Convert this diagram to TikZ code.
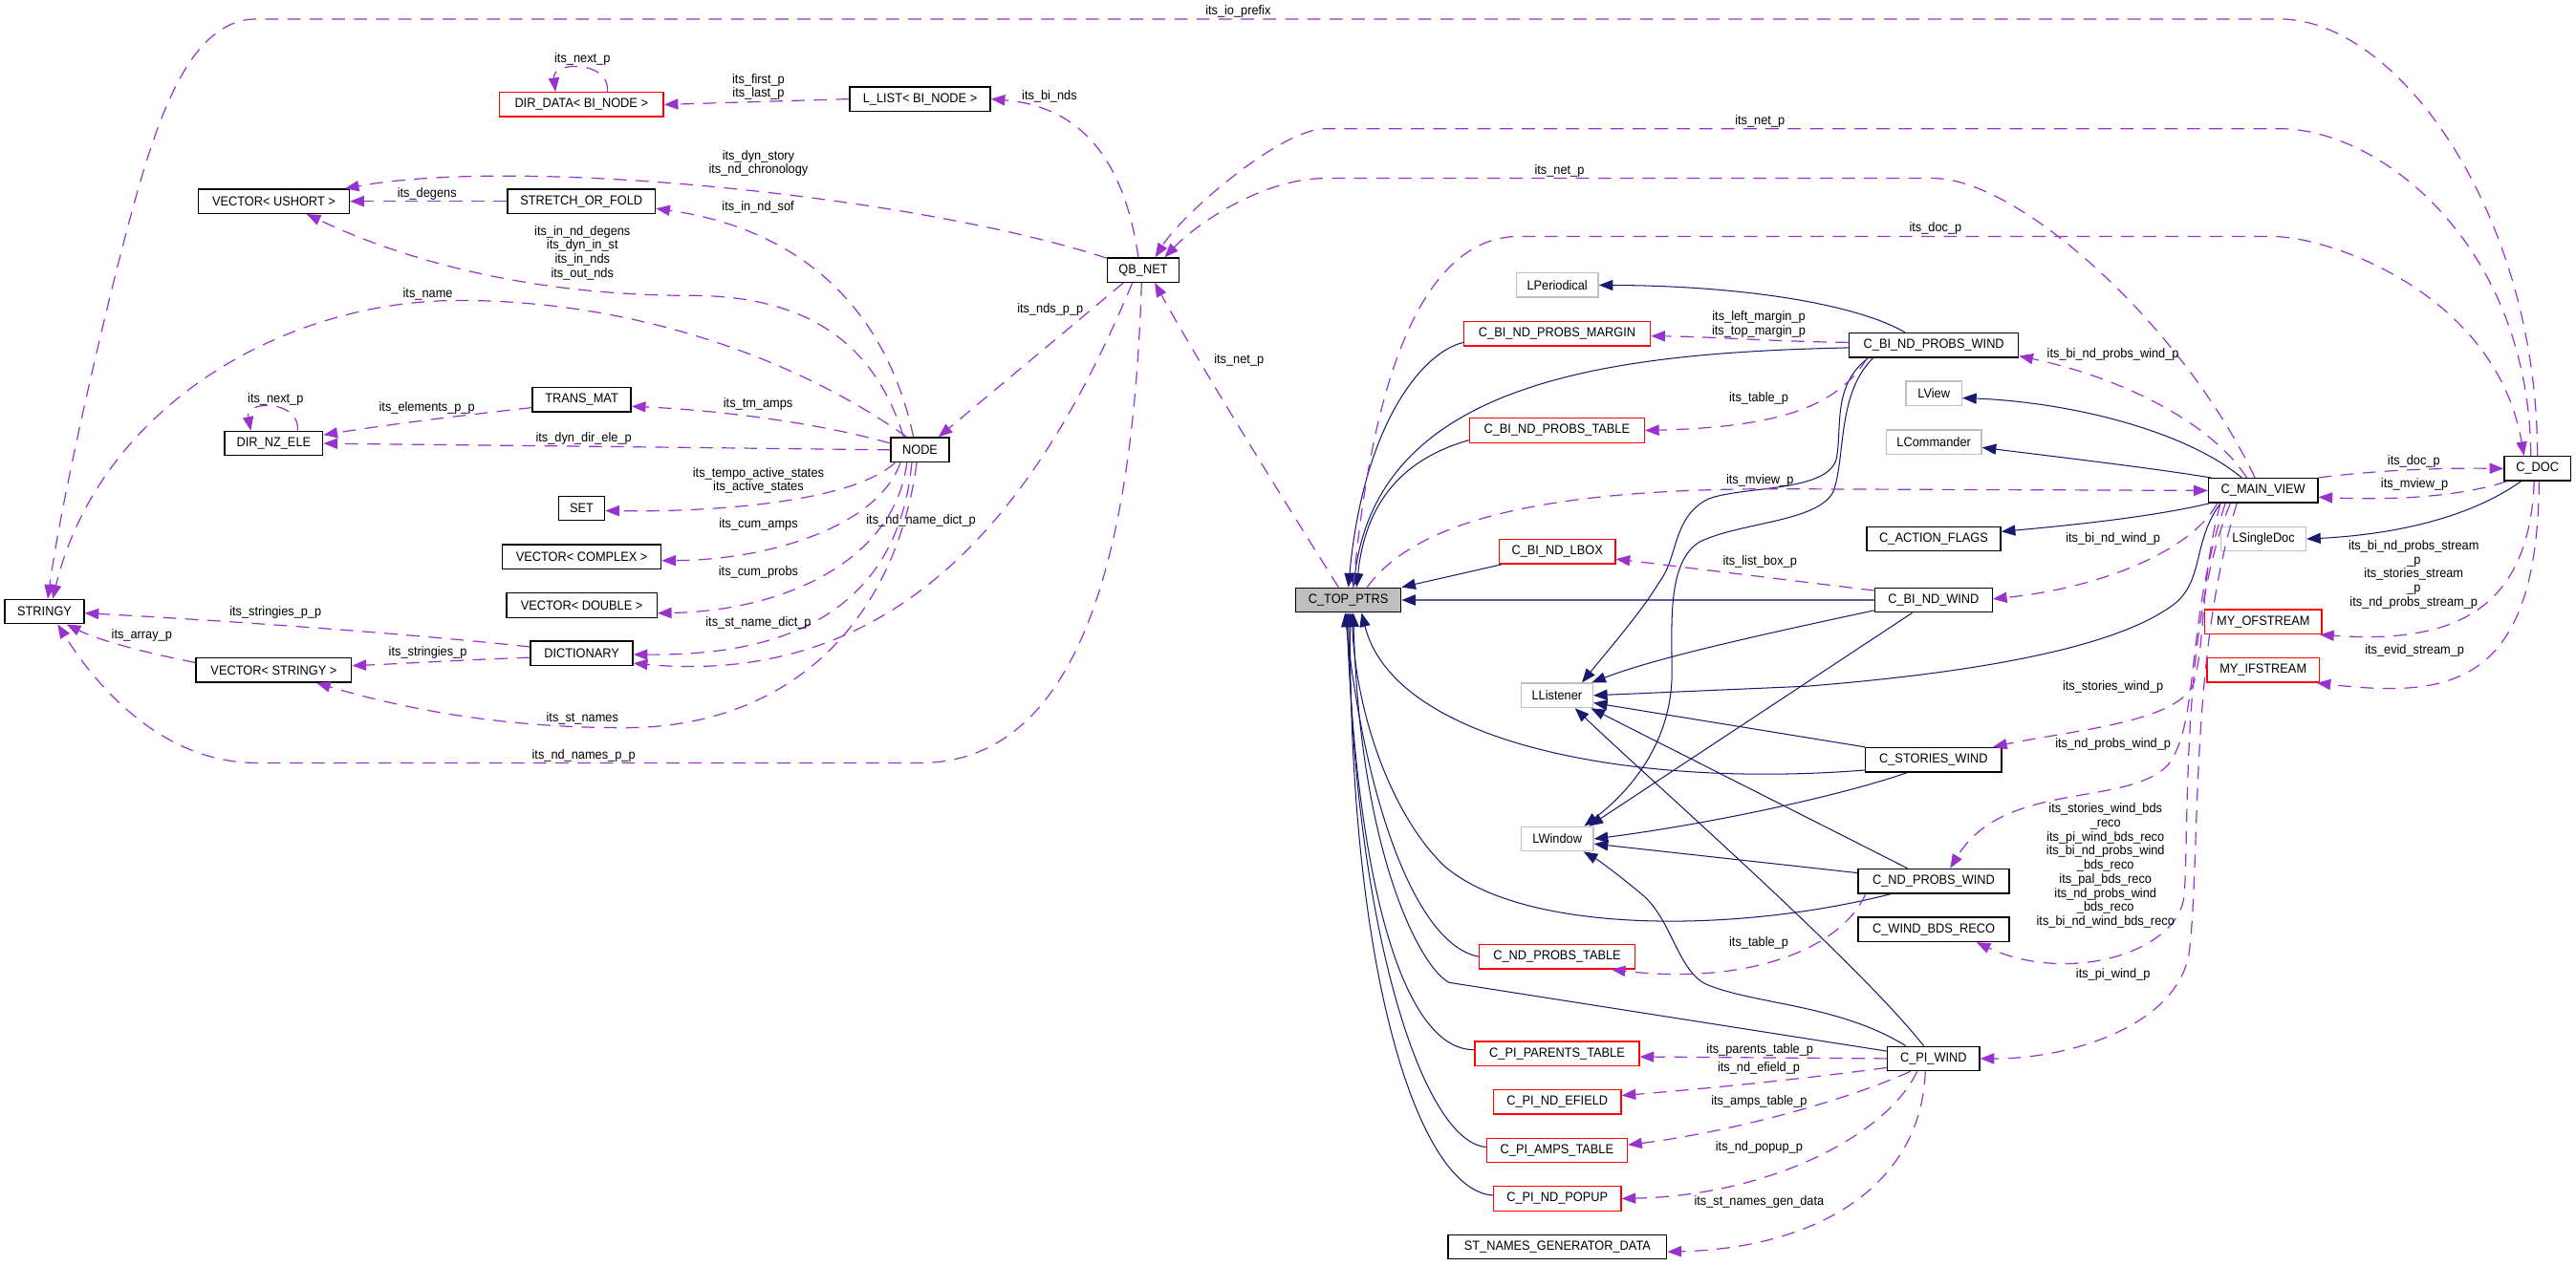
\documentclass[tikz,border=0pt]{standalone}
\usepackage{fontspec}
\setmainfont{Liberation Sans}[FakeStretch=0.93]
\usetikzlibrary{arrows.meta,calc}
\definecolor{purp}{HTML}{9A32CD}
\definecolor{navy}{HTML}{191970}
\definecolor{grey75}{HTML}{BFBFBF}
\newcommand\fs{\fontsize{8}{8.55}\selectfont}
\tikzset{
  cbox/.style={draw=black, line width=0.8pt, fill=white, minimum height=14.8pt, inner sep=0pt, font=\fs},
  rbox/.style={cbox, draw=red},
  gbox/.style={cbox, draw=grey75},
  tbox/.style={cbox, fill=grey75},
  usage/.style={draw=purp, line width=0.7pt, dash pattern=on 8pt off 5.5pt, -{Triangle[length=8.5pt,width=6.5pt]}},
  inherit/.style={draw=navy, line width=0.6pt, -{Triangle[length=8.5pt,width=6.5pt]}},
  lab/.style={inner sep=0pt, align=center, font=\fs}
}
\begin{document}
\catcode`\_=12
\begin{tikzpicture}[x=1pt,y=-1pt]
\fill[white] (0,0) rectangle (1568.5,770.6);
\useasboundingbox (0,0) rectangle (1568.5,770.6);

% ---------- nodes ----------
\node[cbox,minimum width=48.2pt] (stringy) at (27.1,372.5) {STRINGY};
\node[cbox,minimum width=92pt] (vushort) at (166.7,122.6) {VECTOR< USHORT >};
\node[cbox,minimum width=59.8pt] (dirnz) at (166.7,270.1) {DIR_NZ_ELE};
\node[cbox,minimum width=94.6pt] (vstringy) at (166.7,408.2) {VECTOR< STRINGY >};
\node[rbox,minimum width=100pt] (dirdata) at (354,63.7) {DIR_DATA< BI_NODE >};
\node[cbox,minimum width=90pt] (sof) at (354,122.6) {STRETCH_OR_FOLD};
\node[cbox,minimum width=60pt] (transmat) at (354.2,243.5) {TRANS_MAT};
\node[cbox,minimum width=28pt] (set) at (354.2,309.6) {SET};
\node[cbox,minimum width=96.6pt] (vcomplex) at (354.2,339.2) {VECTOR< COMPLEX >};
\node[cbox,minimum width=91.6pt] (vdouble) at (354.2,368.7) {VECTOR< DOUBLE >};
\node[cbox,minimum width=62.3pt] (dict) at (354.2,398) {DICTIONARY};
\node[cbox,minimum width=85.6pt] (llist) at (560.2,60.3) {L_LIST< BI_NODE >};
\node[cbox,minimum width=35.6pt] (nodeN) at (560.2,274) {NODE};
\node[cbox,minimum width=43.4pt] (qbnet) at (696.1,164.5) {QB_NET};
\node[tbox,minimum width=64pt] (ctop) at (821,365.5) {C_TOP_PTRS};
\node[gbox,minimum width=50pt] (lper) at (948.2,173.7) {LPeriodical};
\node[rbox,minimum width=113.6pt] (margin) at (948.1,203.3) {C_BI_ND_PROBS_MARGIN};
\node[rbox,minimum width=106.5pt] (bptable) at (948,262.2) {C_BI_ND_PROBS_TABLE};
\node[rbox,minimum width=70.7pt] (lbox) at (948.2,336) {C_BI_ND_LBOX};
\node[gbox,minimum width=43.6pt] (llis) at (948,423.6) {LListener};
\node[gbox,minimum width=44pt] (lwin) at (948.2,511) {LWindow};
\node[rbox,minimum width=94.8pt] (ndptable) at (948.1,582.7) {C_ND_PROBS_TABLE};
\node[rbox,minimum width=100pt] (parents) at (948.1,641.7) {C_PI_PARENTS_TABLE};
\node[rbox,minimum width=77.7pt] (efield) at (948.2,671.2) {C_PI_ND_EFIELD};
\node[rbox,minimum width=85.7pt] (amps) at (948,700.7) {C_PI_AMPS_TABLE};
\node[rbox,minimum width=77.7pt] (popup) at (948.2,730.1) {C_PI_ND_POPUP};
\node[cbox,minimum width=133pt] (stgen) at (948.3,759.5) {ST_NAMES_GENERATOR_DATA};
\node[cbox,minimum width=103pt] (bpwind) at (1177.5,210.3) {C_BI_ND_PROBS_WIND};
\node[gbox,minimum width=34pt] (lview) at (1177.5,239.6) {LView};
\node[gbox,minimum width=58pt] (lcom) at (1177.5,269.3) {LCommander};
\node[cbox,minimum width=81.6pt] (aflags) at (1177.4,328.3) {C_ACTION_FLAGS};
\node[cbox,minimum width=71.5pt] (bwind) at (1177.3,365.5) {C_BI_ND_WIND};
\node[cbox,minimum width=83pt] (stories) at (1177.3,462.8) {C_STORIES_WIND};
\node[cbox,minimum width=92pt] (ndpwind) at (1177.4,536.7) {C_ND_PROBS_WIND};
\node[cbox,minimum width=92pt] (bdsreco) at (1177.4,566.2) {C_WIND_BDS_RECO};
\node[cbox,minimum width=56pt] (piwind) at (1177.3,644.8) {C_PI_WIND};
\node[cbox,minimum width=66.6pt] (mview) at (1378,298.8) {C_MAIN_VIEW};
\node[gbox,minimum width=51.7pt] (lsdoc) at (1378.2,328.3) {LSingleDoc};
\node[rbox,minimum width=71.2pt] (ofs) at (1378.1,378.8) {MY_OFSTREAM};
\node[rbox,minimum width=68.4pt] (ifs) at (1378,408.2) {MY_IFSTREAM};
\node[cbox,minimum width=40.5pt] (cdoc) at (1545,285.4) {C_DOC};

% ---------- inheritance (solid) ----------
\draw[inherit] ($(bpwind.north)+(-17.5,0)$) .. controls (1130,185) and (1060,174) .. (lper.east);
\draw[inherit] ($(margin.west)+(0,5.3)$) .. controls (865,215) and (830,260) .. (ctop.north);
\draw[inherit] ($(bpwind.west)+(0,1.5)$) .. controls (980,215) and (840,232) .. ($(ctop.north)+(3,0)$);
\draw[inherit] ($(bptable.west)+(0,5.9)$) .. controls (860,278) and (832,300) .. ($(ctop.north)+(5,0)$);
\draw[inherit] ($(lbox.south west)+(2,0)$) -- (ctop.north east);
\draw[inherit, draw=navy!70, line width=1.1pt, -{Triangle[length=8.5pt,width=6.5pt,color=navy]}] (bwind.west) -- (ctop.east);
\draw[inherit] ($(stories.west)+(0,6.3)$) .. controls (1000,480) and (850,455) .. ($(ctop.south)+(8,0)$);
\draw[inherit] ($(ndpwind.south)+(-26,0)$) .. controls (1060,568) and (930,570) .. (880,528) .. controls (850,500) and (826,440) .. ($(ctop.south)+(2,0)$);
\draw[inherit] (ndptable.west) .. controls (860,575) and (830,480) .. ($(ctop.south)+(-2,0)$);
\draw[inherit] ($(parents.west)+(0,-2.3)$) .. controls (855,640) and (826,540) .. ($(ctop.south)+(-1,0)$);
\draw[inherit] ($(amps.west)+(0,-2)$) .. controls (865,695) and (824,560) .. (ctop.south);
\draw[inherit] ($(popup.west)+(0,-2)$) .. controls (865,725) and (822,600) .. ($(ctop.south)+(1,0)$);
\draw[inherit] ($(piwind.west)+(0,-4.5)$) -- (882.5,598.5) .. controls (865,590) and (828,520) .. ($(ctop.south)+(3,0)$);
\draw[inherit] ($(bpwind.south)+(-40,0)$) .. controls (1115,235) and (1122,262) .. (1118,280) .. controls (1112,300) and (1060,296) .. (1040,304) .. controls (1018,315) and (1022,340) .. (1010,355) .. controls (1000,372) and (980,395) .. ($(llis.north east)+(-7,0)$);
\draw[inherit] ($(bpwind.south)+(-37,0)$) .. controls (1118,240) and (1124,280) .. (1116,300) .. controls (1106,318) and (1060,318) .. (1035,330) .. controls (1015,342) and (1018,380) .. (1018,410) .. controls (1018,450) and (995,480) .. ($(lwin.north east)+(-6,0)$);
\draw[inherit] ($(mview.north)+(-13,0)$) .. controls (1330,262) and (1260,245) .. ($(lview.east)+(0,2.8)$);
\draw[inherit] ($(mview.north west)+(2,0)$) .. controls (1310,285) and (1250,278) .. ($(lcom.east)+(0,3.3)$);
\draw[inherit] ($(mview.south west)+(1,0)$) .. controls (1310,315) and (1260,320) .. ($(aflags.east)+(0,-4.5)$);
\draw[inherit] ($(mview.south)+(-26,0)$) .. controls (1335,330) and (1342,352) .. (1325,367) .. controls (1290,395) and (1200,410) .. (1100,418) -- (llis.east);
\draw[inherit] ($(bwind.south west)+(0,-1.5)$) .. controls (1080,385) and (1010,400) .. ($(llis.north east)+(-1,0)$);
\draw[inherit] ($(bwind.south)+(-13,0)$) -- ($(lwin.north east)+(-3,0)$);
\draw[inherit] (stories.north west) -- ($(llis.east)+(0,4.5)$);
\draw[inherit] ($(stories.south)+(-16,0)$) .. controls (1120,485) and (1040,502) .. (lwin.east);
\draw[inherit] ($(ndpwind.north)+(-16,0)$) -- ($(llis.south east)+(-1.5,0)$);
\draw[inherit] ($(ndpwind.west)+(0,-5)$) -- ($(lwin.east)+(0,3)$);
\draw[inherit] ($(piwind.north)+(-6,0)$) .. controls (1130,585) and (1010,480) .. ($(llis.south)+(11,0)$);
\draw[inherit] ($(piwind.north)+(-17,0)$) .. controls (1120,612) and (1070,612) .. (1040,600) .. controls (1022,593) and (1018,560) .. (1000,545) .. controls (988,535) and (975,525) .. ($(lwin.south)+(16,0)$);
\draw[inherit] ($(cdoc.south)+(-10,0)$) .. controls (1500,318) and (1450,326) .. (lsdoc.east);

% ---------- usage (dashed) ----------
\draw[usage] (cdoc.north) .. controls (1545,130) and (1460,11.6) .. (1388,11.6) -- (156,11.6) .. controls (115,11.6) and (95,75) .. (80,130) .. controls (65,185) and (38,300) .. ($(stringy.north)+(2,0)$);
\node[lab] at (753.9,6.8) {its_io_prefix};

\draw[usage] ($(cdoc.north)+(-4,0)$) .. controls (1540,150) and (1450,78.4) .. (1388,78.4) -- (807,78.4) .. controls (780,78.4) and (720,130) .. ($(qbnet.north)+(7.3,0)$);
\node[lab] at (1071.6,73.7) {its_net_p};

\draw[usage] ($(mview.north)+(-5,0)$) .. controls (1330,200) and (1230,108.6) .. (1177,108.6) -- (807,108.6) .. controls (770,108.6) and (730,135) .. ($(qbnet.north)+(13,0)$);
\node[lab] at (949.5,104.2) {its_net_p};

\draw[usage] ($(ctop.north)+(3,0)$) .. controls (836,220) and (870,144) .. (925,144) -- (1383,144) .. controls (1420,144) and (1520,180) .. ($(cdoc.north)+(-8.2,0)$);
\node[lab] at (1178.5,139.3) {its_doc_p};

\draw[usage] ($(ctop.north)+(-6,0)$) .. controls (790,318) and (735,230) .. ($(qbnet.south)+(7,0)$);
\node[lab] at (754.4,219.2) {its_net_p};

\draw[usage] ($(qbnet.north)+(-3,0)$) .. controls (685,100) and (660,65) .. (llist.east);
\node[lab] at (639,58.6) {its_bi_nds};

\draw[usage] (llist.west) -- (dirdata.east);
\node[lab] at (461.8,53) {its_first_p\\its_last_p};

\draw[usage] ($(dirdata.north)+(15.8,0)$) .. controls (372,36.9) and (336,36.9) .. ($(dirdata.north)+(-15.8,0)$);
\node[lab] at (354.6,36) {its_next_p};

\draw[usage] (qbnet) .. controls (560,120) and (320,95) .. (vushort);
\node[lab] at (461.8,99.5) {its_dyn_story\\its_nd_chronology};

\draw[usage] (sof.west) -- (vushort.east);
\node[lab] at (260,118) {its_degens};

\draw[usage] ($(nodeN.north)+(-4,0)$) .. controls (540,190) and (490,140) .. ($(sof.east)+(0,4.4)$);
\node[lab] at (461.6,126.1) {its_in_nd_sof};

\draw[usage] ($(nodeN.north)+(-10,0)$) .. controls (530,200) and (480,180) .. (420,180) .. controls (340,180) and (260,165) .. ($(vushort.south)+(20,0)$);
\node[lab] at (354.6,154) {its_in_nd_degens\\its_dyn_in_st\\its_in_nds\\its_out_nds};

\draw[usage] ($(nodeN.north)+(-8,0)$) .. controls (480,215) and (380,183) .. (280,183) .. controls (170,183) and (60,250) .. ($(stringy.north)+(5,0)$);
\node[lab] at (260.5,178.9) {its_name};

\draw[usage] ($(transmat.west)+(0,4.8)$) .. controls (290,252) and (240,258) .. ($(dirnz.east)+(0,-5.2)$);
\node[lab] at (260,248.3) {its_elements_p_p};

\draw[usage] ($(dirnz.north)+(14.5,0)$) .. controls (183,243.5) and (149,243.5) .. ($(dirnz.north)+(-14,0)$);
\node[lab] at (167.8,243) {its_next_p};

\draw[usage] ($(nodeN.west)+(0,-4)$) .. controls (500,258) and (440,250) .. ($(transmat.east)+(0,4)$);
\node[lab] at (461.6,246.4) {its_tm_amps};

\draw[usage] (nodeN.west) -- (dirnz.east);
\node[lab] at (355.4,267.2) {its_dyn_dir_ele_p};

\draw[usage] ($(nodeN.south west)+(3,0)$) .. controls (520,305) and (440,312) .. ($(set.east)+(0,1.5)$);
\node[lab] at (461.8,292.7) {its_tempo_active_states\\its_active_states};

\draw[usage] ($(nodeN.south)+(-12,0)$) .. controls (535,320) and (470,341) .. ($(vcomplex.east)+(0,2.3)$);
\node[lab] at (461.8,319.4) {its_cum_amps};

\draw[usage] ($(nodeN.south)+(-8,0)$) .. controls (545,340) and (480,372) .. ($(vdouble.east)+(0,4.8)$);
\node[lab] at (461.8,348.5) {its_cum_probs};

\draw[usage] ($(nodeN.south)+(-5,0)$) .. controls (545,390) and (450,399) .. ($(dict.east)+(0,0.7)$);
\node[lab] at (461.8,379.3) {its_st_name_dict_p};

\draw[usage] ($(qbnet.south)+(-6.6,0)$) .. controls (640,290) and (560,420) .. ($(dict.east)+(0,6)$);
\node[lab] at (560.8,317) {its_nd_name_dict_p};

\draw[usage] ($(qbnet.south west)+(10,0)$) -- ($(nodeN.north east)+(-7,0)$);
\node[lab] at (639.5,188.8) {its_nds_p_p};

\draw[usage] ($(qbnet.south)+(-1,0)$) .. controls (690,330) and (660,464.7) .. (560,464.7) -- (156.5,464.7) .. controls (100,464.7) and (60,420) .. ($(stringy.south)+(8,0)$);
\node[lab] at (355.4,460.2) {its_nd_names_p_p};

\draw[usage] ($(nodeN.south)+(-2,0)$) .. controls (545,380) and (480,443.3) .. (380,443.3) .. controls (300,443.3) and (240,430) .. ($(vstringy.south)+(26,0)$);
\node[lab] at (354.6,437.5) {its_st_names};

\draw[usage] ($(dict.west)+(0,-4)$) .. controls (240,385) and (120,377) .. ($(stringy.east)+(0,1)$);
\node[lab] at (167.8,372.9) {its_stringies_p_p};

\draw[usage] ($(dict.west)+(0,2.5)$) .. controls (280,402) and (250,404) .. ($(vstringy.east)+(0,-2.7)$);
\node[lab] at (260.5,397.4) {its_stringies_p};

\draw[usage] ($(vstringy.west)+(0,-4.6)$) .. controls (90,398) and (60,390) .. ($(stringy.south east)+(-11,0)$);
\node[lab] at (86.3,387) {its_array_p};

\draw[usage] ($(bpwind.west)+(0,-1.7)$) .. controls (1080,208) and (1040,205) .. ($(margin.east)+(0,1.4)$);
\node[lab] at (1070.9,197.4) {its_left_margin_p\\its_top_margin_p};

\draw[usage] ($(mview.north)+(-10,0)$) .. controls (1350,262) and (1300,232) .. ($(bpwind.east)+(0,6.5)$);
\node[lab] at (1286.6,215.7) {its_bi_nd_probs_wind_p};

\draw[usage] ($(bpwind.south)+(-40.5,0)$) .. controls (1120,245) and (1090,260) .. (bptable.east);
\node[lab] at (1070.9,242.5) {its_table_p};

\draw[usage] ($(ctop.north east)+(-21,0)$) .. controls (860,320) and (930,298) .. (1080,297.8) -- (mview.west);
\node[lab] at (1071.6,292.6) {its_mview_p};

\draw[usage] ($(cdoc.south west)+(2,0)$) .. controls (1500,302) and (1460,305) .. ($(mview.east)+(0,4)$);
\node[lab] at (1470.2,294.9) {its_mview_p};

\draw[usage] (mview.north east) .. controls (1450,286) and (1490,285) .. (cdoc.west);
\node[lab] at (1469.7,280.8) {its_doc_p};

\draw[usage] ($(bwind.north west)+(0,2)$) -- ($(lbox.east)+(0,4.5)$);
\node[lab] at (1071.6,341.9) {its_list_box_p};

\draw[usage] ($(mview.south)+(-28,0)$) .. controls (1335,335) and (1280,358) .. ($(bwind.east)+(0,-0.7)$);
\node[lab] at (1286.6,328.5) {its_bi_nd_wind_p};

\draw[usage] ($(mview.south)+(-26,0)$) .. controls (1340,350) and (1343,390) .. (1336,415) .. controls (1329,440) and (1260,445) .. ($(stories.north east)+(-5.7,0)$);
\node[lab] at (1286.6,418.7) {its_stories_wind_p};

\draw[usage] ($(mview.south)+(-23,0)$) .. controls (1330,380) and (1340,440) .. (1320,466) .. controls (1295,492) and (1220,475) .. ($(ndpwind.north)+(10,0)$);
\node[lab] at (1286.6,453.6) {its_nd_probs_wind_p};

\draw[usage] ($(mview.south)+(-20,0)$) .. controls (1328,380) and (1333,500) .. (1330,545) .. controls (1327,580) and (1260,600) .. ($(bdsreco.south)+(26,0)$);
\node[lab] at (1282,527.3) {its_stories_wind_bds\\_reco\\its_pi_wind_bds_reco\\its_bi_nd_probs_wind\\_bds_reco\\its_pal_bds_reco\\its_nd_probs_wind\\_bds_reco\\its_bi_nd_wind_bds_reco};

\draw[usage] ($(mview.south)+(-16,0)$) .. controls (1333,400) and (1340,520) .. (1333,580) .. controls (1326,625) and (1260,645) .. (piwind.east);
\node[lab] at (1286.6,593.6) {its_pi_wind_p};

\draw[usage] (piwind.west) -- ($(parents.east)+(0,2)$);
\node[lab] at (1071.6,639.4) {its_parents_table_p};

\draw[usage] ($(piwind.west)+(0,5.5)$) .. controls (1100,657) and (1040,663) .. ($(efield.east)+(0,-3.9)$);
\node[lab] at (1070.9,650.8) {its_nd_efield_p};

\draw[usage] ($(piwind.south)+(-14,0)$) .. controls (1120,672) and (1050,690) .. ($(amps.east)+(0,-3.3)$);
\node[lab] at (1071.1,670.8) {its_amps_table_p};

\draw[usage] ($(piwind.south)+(-10,0)$) .. controls (1150,690) and (1080,728) .. (popup.east);
\node[lab] at (1071.1,699) {its_nd_popup_p};

\draw[usage] ($(piwind.south)+(-5,0)$) .. controls (1170,720) and (1110,760) .. ($(stgen.east)+(0,3)$);
\node[lab] at (1071.1,732.3) {its_st_names_gen_data};

\draw[usage] ($(ndpwind.south west)+(5,0)$) .. controls (1120,580) and (1060,600) .. ($(ndptable.south)+(33,0)$);
\node[lab] at (1070.9,574.2) {its_table_p};

\draw[usage] ($(cdoc.south)+(-2,0)$) .. controls (1540,375) and (1490,392) .. ($(ofs.south east)+(-1.5,0)$);
\node[lab] at (1469.7,349.9) {its_bi_nd_probs_stream\\_p\\its_stories_stream\\_p\\its_nd_probs_stream_p};

\draw[usage] ($(cdoc.south)+(1,0)$) .. controls (1545,420) and (1490,425) .. ($(ifs.south east)+(-2,0)$);
\node[lab] at (1470.2,396.2) {its_evid_stream_p};

\end{tikzpicture}
\end{document}
